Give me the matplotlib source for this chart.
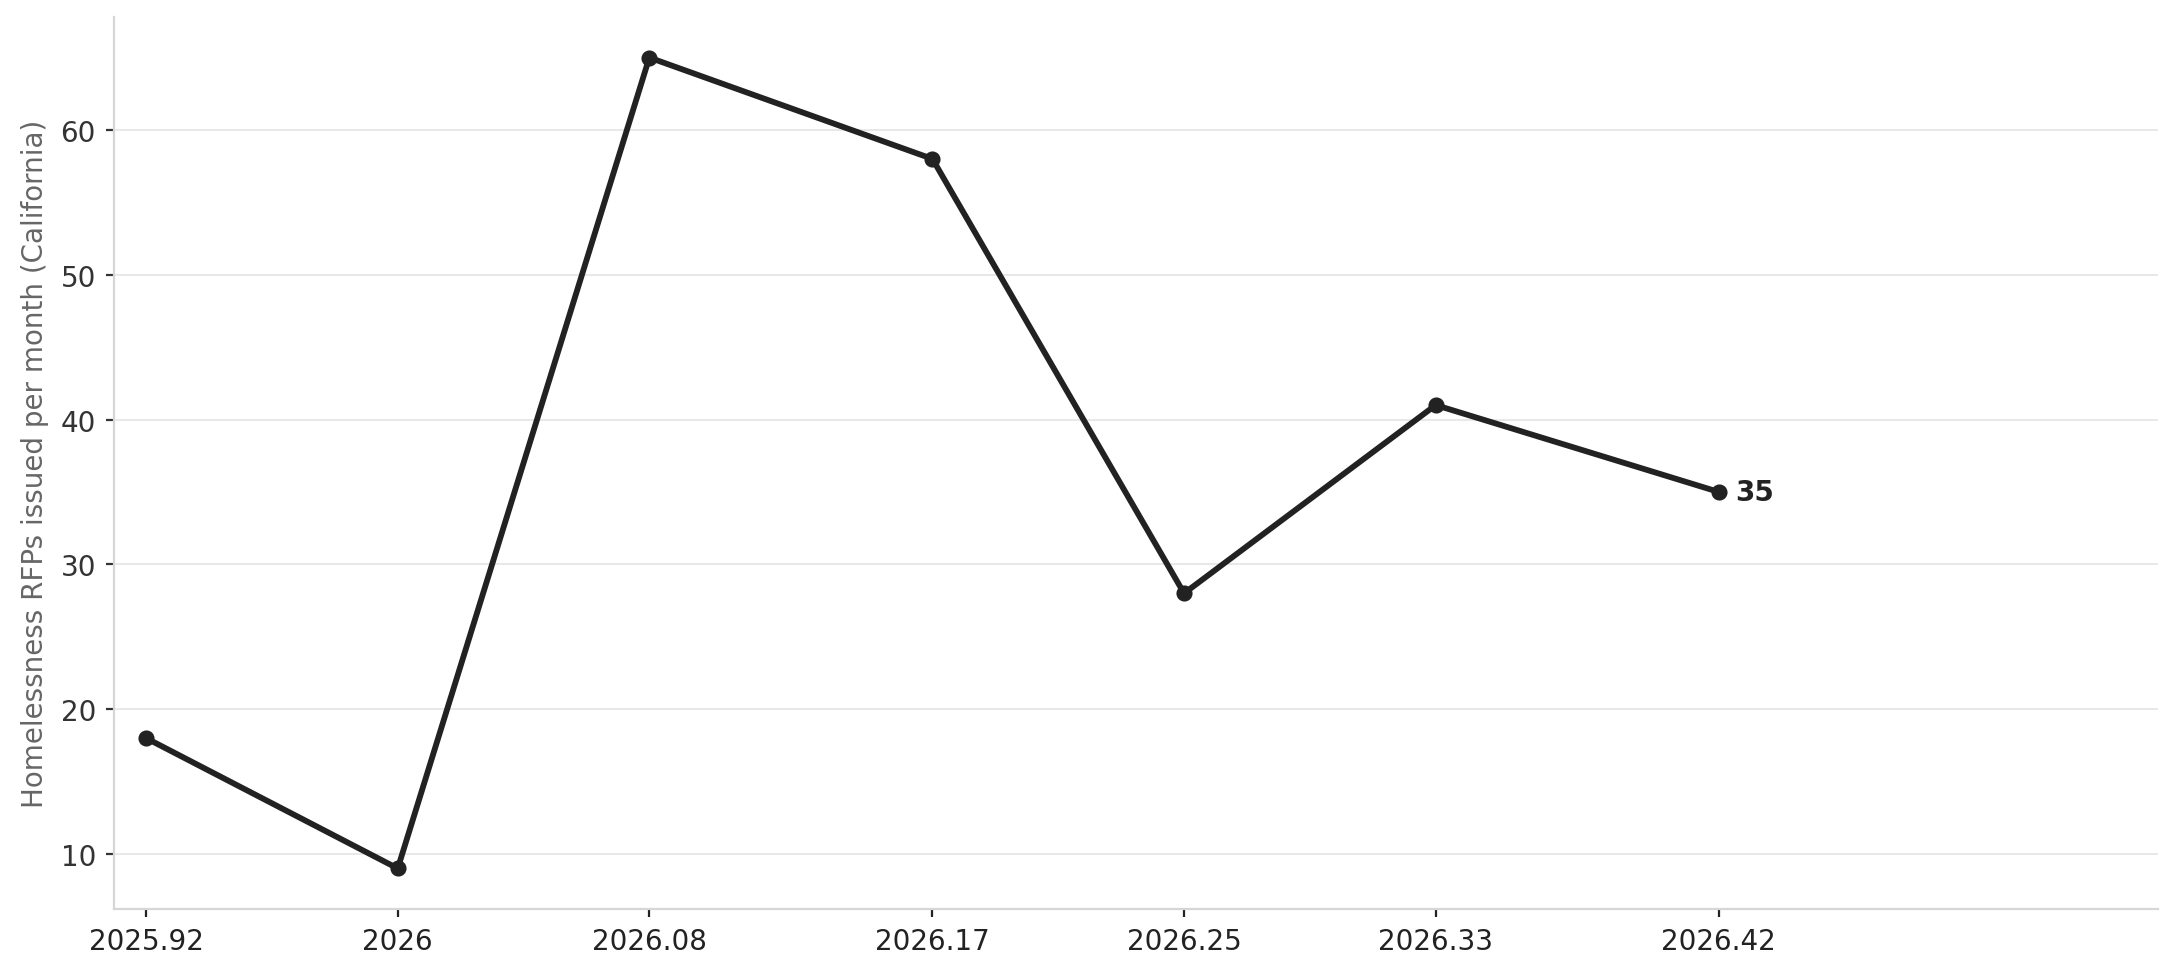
import matplotlib.pyplot as plt

# Monthly values, x is year + month/12 rounded to two decimals
months = [2025.92, 2026.00, 2026.08, 2026.17, 2026.25, 2026.33, 2026.42]
rfp_counts = [18, 9, 65, 58, 28, 41, 35]
tick_labels = ['2025.92', '2026', '2026.08', '2026.17', '2026.25', '2026.33', '2026.42']

plt.rcParams['font.family'] = ['DejaVu Sans']

fig, ax = plt.subplots(figsize=(10.9, 4.895), dpi=200)
fig.subplots_adjust(left=0.0523, right=0.990, top=0.9816, bottom=0.0705)

ax.plot(months, rfp_counts, color='#222222', linewidth=2.1,
        marker='o', markersize=4.8, zorder=3)

# label the last point
ax.annotate(str(rfp_counts[-1]), (months[-1], rfp_counts[-1]),
            xytext=(6, 0), textcoords='offset points',
            ha='left', va='center', fontsize=10, fontweight='bold', color='#222222')

ax.set_xticks(months)
ax.set_xticklabels(tick_labels)
ax.set_xlim(2025.9098, 2026.5597)
ax.set_ylim(6.2, 67.8)
ax.set_yticks([10, 20, 30, 40, 50, 60])

ax.set_ylabel('Homelessness RFPs issued per month (California)', fontsize=10,
              color='#666666', labelpad=4)
ax.tick_params(axis='both', labelsize=10, colors='#333333', length=3, width=0.8)
ax.tick_params(axis='x', colors='#222222')

ax.grid(axis='y', color='#e8e8e8', linewidth=0.7)
ax.set_axisbelow(True)
for side in ['top', 'right']:
    ax.spines[side].set_visible(False)
for side in ['left', 'bottom']:
    ax.spines[side].set_color('#d6d6d6')
    ax.spines[side].set_linewidth(0.8)

fig.savefig('out.png', dpi=200)
